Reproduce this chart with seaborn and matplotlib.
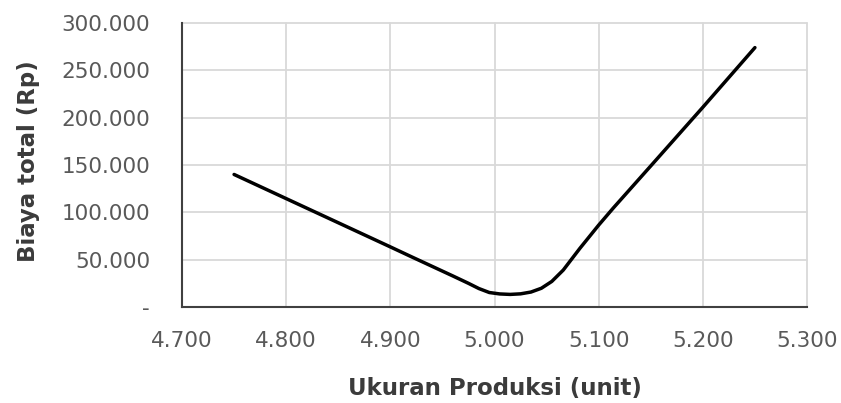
import matplotlib
matplotlib.use("Agg")
import matplotlib.pyplot as plt
import seaborn as sns
import pandas as pd
from matplotlib.ticker import FuncFormatter, FixedLocator

# Data
ukuran = [4750, 4800, 4850, 4900, 4920, 4940, 4960, 4975, 4985, 4995, 5005,
          5015, 5025, 5035, 5045, 5055, 5066, 5082, 5100, 5114, 5150, 5200, 5250]
biaya = [140000, 114500, 89000, 63500, 53200, 43000, 32800, 25000, 19500, 15300, 13800,
         13300, 13900, 15800, 19800, 27000, 39000, 62000, 86500, 104500, 149000, 211000, 274000]
x_ticks = [4700, 4800, 4900, 5000, 5100, 5200, 5300]
y_ticks = [0, 50000, 100000, 150000, 200000, 250000, 300000]
x_title = "Ukuran Produksi (unit)"
y_title = "Biaya total (Rp)"

df = pd.DataFrame({"ukuran": ukuran, "biaya": biaya})

sns.set_theme(style="white")
plt.rcParams["font.family"] = ["DejaVu Sans"]

fig = plt.figure(figsize=(8.41, 4.03), dpi=100)
ax = fig.add_axes([182 / 841, 1 - 307 / 403, 625 / 841, 284 / 403])

sns.lineplot(data=df, x="ukuran", y="biaya", ax=ax, color="black",
             linewidth=2.5, estimator=None, sort=False)
for ln in ax.get_lines():
    ln.set_solid_joinstyle("round")

ax.set_xlim(4700, 5300)
ax.set_ylim(0, 300000)
ax.xaxis.set_major_locator(FixedLocator(x_ticks))
ax.yaxis.set_major_locator(FixedLocator(y_ticks))


def thousands(v, pos):
    if v == 0:
        return "-"
    return f"{v:,.0f}".replace(",", ".")


ax.xaxis.set_major_formatter(FuncFormatter(thousands))
ax.yaxis.set_major_formatter(FuncFormatter(thousands))

ax.grid(True, color="#d9d9d9", linewidth=1.3)
ax.set_axisbelow(True)
for gl in ax.get_xgridlines() + ax.get_ygridlines():
    gl.set_clip_on(False)

for s in ["top", "right"]:
    ax.spines[s].set_visible(False)
for s in ["left", "bottom"]:
    ax.spines[s].set_color("#404040")
    ax.spines[s].set_linewidth(1.5)

ax.tick_params(axis="x", length=0, pad=17, labelsize=15.5, labelcolor="#595959")
ax.tick_params(axis="y", length=0, pad=23, labelsize=15.5, labelcolor="#595959")

ax.set_xlabel(x_title, fontsize=16.5, fontweight="bold", color="#3b3b3b")
ax.set_ylabel(y_title, fontsize=16.5, fontweight="bold", color="#3b3b3b")
ax.xaxis.set_label_coords(0.5, -0.245)
ax.yaxis.set_label_coords(-0.227, 0.514)

fig.savefig("out.png", dpi=100)
